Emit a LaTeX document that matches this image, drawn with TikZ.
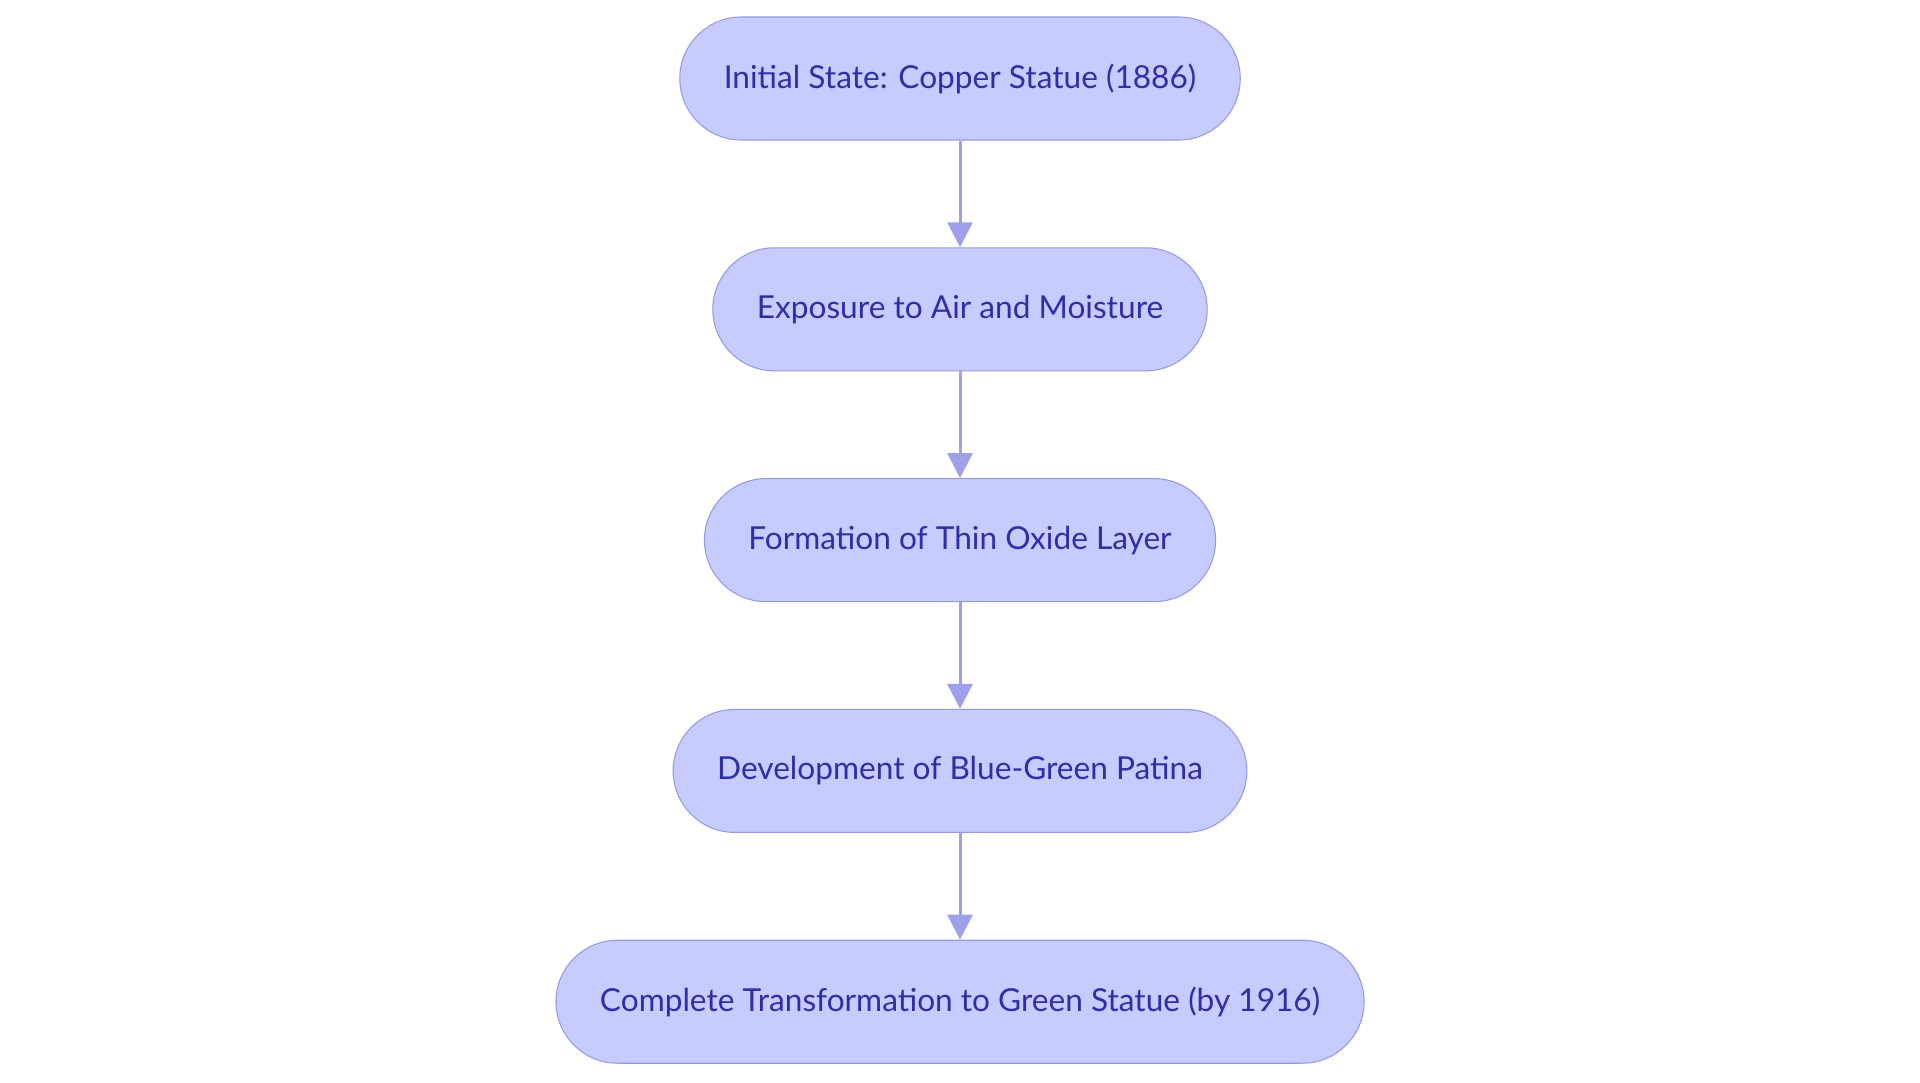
\documentclass[tikz,border=0pt]{standalone}
\usepackage{fontspec}
\setmainfont{Lato}
\usepackage{tikz}
\usetikzlibrary{arrows.meta, positioning}
\definecolor{stepfill}{RGB}{200, 203, 253}
\definecolor{stepline}{RGB}{150, 154, 228}
\definecolor{steptext}{RGB}{46, 46, 168}
\definecolor{flowline}{RGB}{158, 161, 234}

\begin{document}
\begin{tikzpicture}[
    node distance=2.135cm,
    stage/.style={rectangle, draw=stepline, line width=0.6pt, fill=stepfill, rounded corners=1.23cm, minimum height=2.46cm, inner xsep=0.88cm, align=center, text=steptext, font=\fontsize{18}{21}\selectfont},
    arrow/.style={-{Triangle[length=0.5cm, width=0.5cm]}, draw=flowline, line width=1.7pt}
]
    \useasboundingbox (0,0) rectangle (38.4,-21.66);
    \node[stage] (initial) at (19.2,-1.57) {Initial State: Copper Statue (1886)};
    \node[stage, below=of initial] (exposure) {Exposure to Air and Moisture};
    \node[stage, below=of exposure] (oxide) {Formation of Thin Oxide Layer};
    \node[stage, below=of oxide] (patina) {Development of Blue-Green Patina};
    \node[stage, below=of patina] (green) {Complete Transformation to Green Statue (by 1916)};

    \draw[arrow] (initial) -- (exposure);
    \draw[arrow] (exposure) -- (oxide);
    \draw[arrow] (oxide) -- (patina);
    \draw[arrow] (patina) -- (green);
\end{tikzpicture}
\end{document}
